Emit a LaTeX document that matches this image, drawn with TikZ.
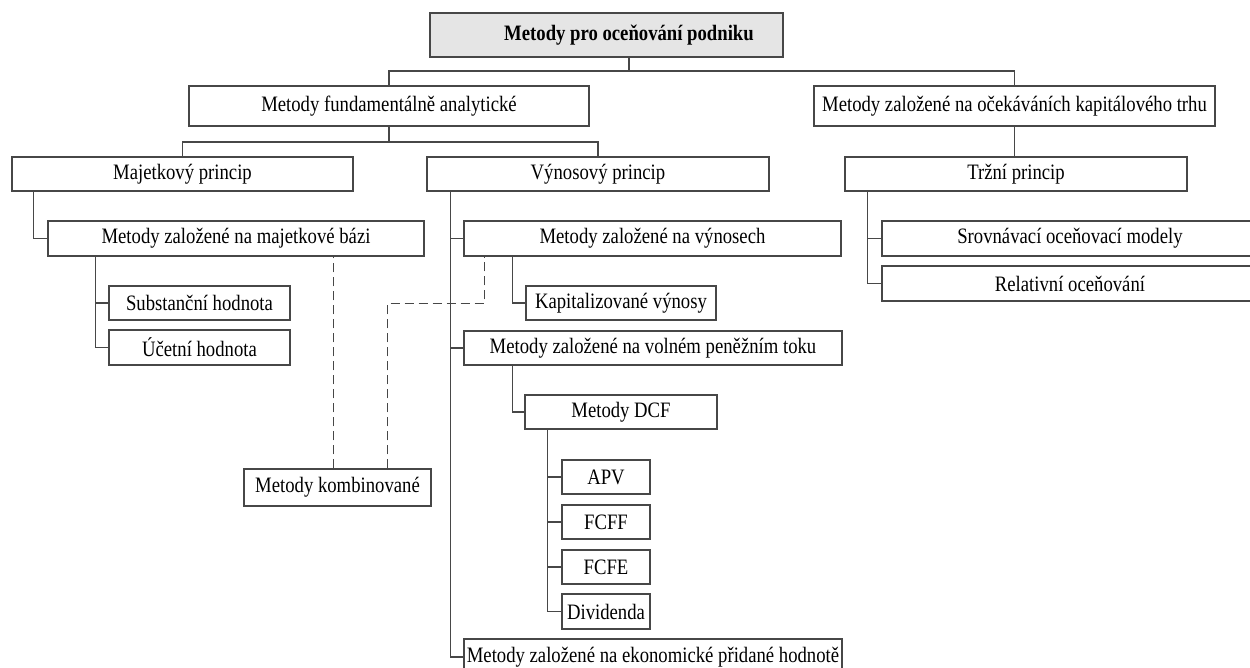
\documentclass[tikz,border=0pt]{standalone}
\usepackage{fontspec}
\setmainfont{Liberation Serif}[FakeStretch=0.85]
\usepackage{tikz}
\usetikzlibrary{calc}
\tikzset{
    normal/.style={draw=black!72, line width=0.65pt},
    box/.style={style=normal, rectangle, inner sep=0pt, font=\fontsize{11}{13}\selectfont},
    rootbox/.style={style=box, fill=black!10, font=\fontsize{11}{13}\selectfont\bfseries},
    te/.style={style=normal}, % edges in the tree
    de/.style={style=normal, dash pattern=on 4.5pt off 2.5pt} % dashed edges to combined methods
}

\begin{document}
\begin{tikzpicture}[x=0.5pt, y=-0.5pt]
        \useasboundingbox[fill=white] (0,0) rectangle (1250,668);

        \node[rootbox, minimum width=176.5pt, minimum height=22pt] (root) at (606.5,35) {\hspace*{22.5pt}Metody pro oceňování podniku};

        \node[box, minimum width=200pt, minimum height=20pt] (fund) at (389,106) {Metody fundamentálně analytické};
        \node[box, minimum width=200.5pt, minimum height=20pt] (trh) at (1014.5,106) {Metody založené na očekáváních kapitálového trhu};

        \node[box, minimum width=170.5pt, minimum height=17pt] (maj) at (182.5,174) {Majetkový princip};
        \node[box, minimum width=171pt, minimum height=17pt] (vyn) at (598,174) {Výnosový princip};
        \node[box, minimum width=171pt, minimum height=17pt] (trzni) at (1016,174) {Tržní princip};

        \node[box, minimum width=188pt, minimum height=17.5pt] (majbaze) at (236,238.5) {Metody založené na majetkové bázi};
        \node[box, minimum width=90.5pt, minimum height=17pt] (subst) at (199.5,303) {Substanční hodnota};
        \node[box, minimum width=90.5pt, minimum height=17.5pt] (ucet) at (199.5,347.5) {Účetní hodnota};
        \node[box, minimum width=93.5pt, minimum height=18.5pt] (komb) at (337.5,487.5) {Metody kombinované};

        \node[box, minimum width=188.5pt, minimum height=17.5pt] (vynosy) at (652.5,238.5) {Metody založené na výnosech};
        \node[box, minimum width=95pt, minimum height=17pt] (kapit) at (621,303) {Kapitalizované výnosy};
        \node[box, minimum width=189pt, minimum height=17pt] (volny) at (653,348) {Metody založené na volném peněžním toku};
        \node[box, minimum width=96pt, minimum height=17pt] (dcf) at (621,412) {Metody DCF};
        \node[box, minimum width=44pt, minimum height=17pt] (apv) at (606,477) {APV};
        \node[box, minimum width=44pt, minimum height=17pt] (fcff) at (606,522) {FCFF};
        \node[box, minimum width=44pt, minimum height=17pt] (fcfe) at (606,567) {FCFE};
        \node[box, minimum width=44pt, minimum height=17.5pt] (divid) at (606,611.5) {Dividenda};
        \node[box, minimum width=189pt, minimum height=18pt] (ekon) at (653,657) {Metody založené na ekonomické přidané hodnotě};

        \node[box, minimum width=188pt, minimum height=17.5pt] (srov) at (1070,238.5) {Srovnávací oceňovací modely};
        \node[box, minimum width=188pt, minimum height=17.5pt] (rel) at (1070,283.5) {Relativní oceňování};

        % upper levels
        \coordinate (rj) at (629,71);
        \coordinate (fj) at (389,142);
        \draw[te] (root.south -| rj) -- (rj);
        \draw[te] (fund.north) |- (rj) -| (trh.north);
        \draw[te] (fund.south) -- (fj);
        \draw[te] (maj.north) |- (fj) -| (vyn.north);
        \draw[te] (trh.south) -- (trh.south |- trzni.north);

        % side branches
        \draw[te] ($(maj.south west)+(22,0)$) |- (majbaze.west);
        \draw[te] ($(majbaze.south west)+(48,0)$) coordinate (mb) |- (ucet.west) (mb |- subst.west) -- (subst.west);
        \draw[te] ($(vyn.south west)+(24,0)$) coordinate (vb) |- (ekon.west) (vb |- vynosy.west) -- (vynosy.west) (vb |- volny.west) -- (volny.west);
        \draw[te] ($(vynosy.south west)+(49,0)$) |- (kapit.west);
        \draw[te] ($(volny.south west)+(49,0)$) |- (dcf.west);
        \draw[te] ($(dcf.south west)+(23,0)$) coordinate (db) |- (divid.west) (db |- apv.west) -- (apv.west) (db |- fcff.west) -- (fcff.west) (db |- fcfe.west) -- (fcfe.west);
        \draw[te] ($(trzni.south west)+(23,0)$) coordinate (tb) |- (rel.west) (tb |- srov.west) -- (srov.west);

        % combined methods
        \draw[de] ($(komb.north west)+(90,0)$) coordinate (k1) -- (k1 |- majbaze.south);
        \draw[de] ($(komb.north west)+(144,0)$) |- ($(vynosy.south west)+(21,47)$) coordinate (k2) -- (k2 |- vynosy.south);
      \end{tikzpicture}
\end{document}
